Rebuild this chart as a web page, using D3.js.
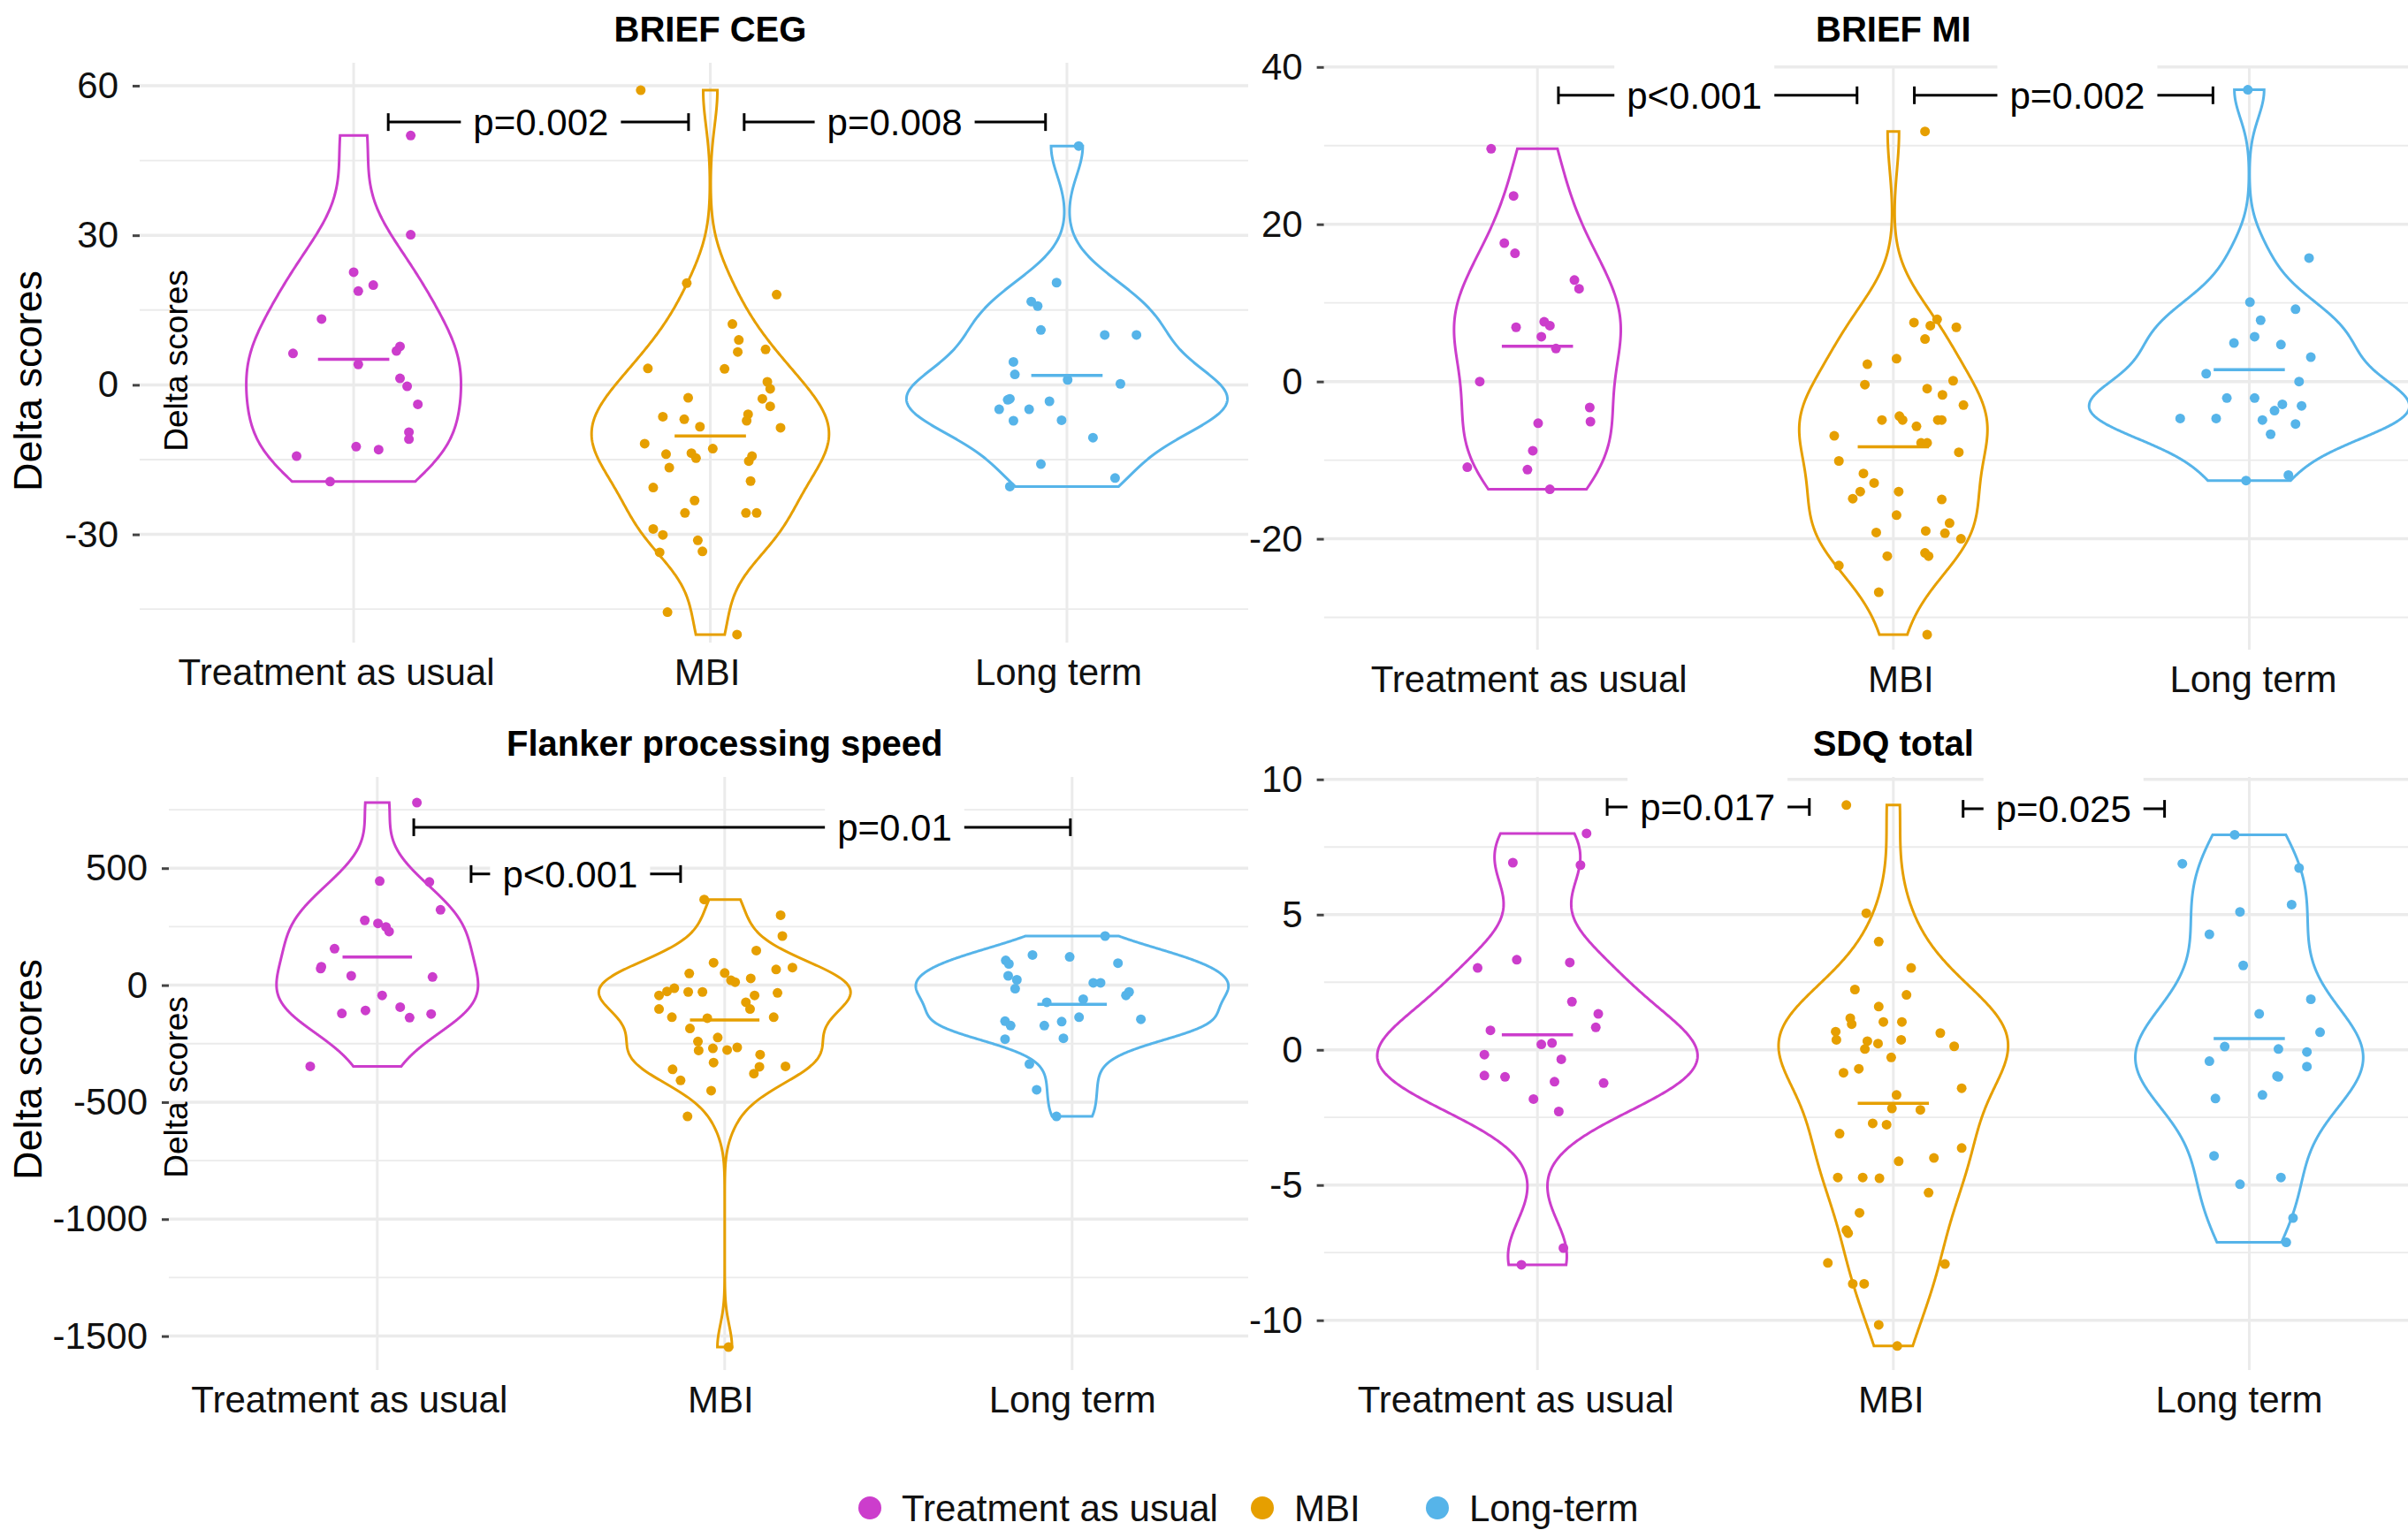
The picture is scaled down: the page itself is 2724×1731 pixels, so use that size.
<!DOCTYPE html>
<html>
<head>
<meta charset="utf-8">
<script src="https://cdn.jsdelivr.net/npm/d3@7"></script>
<style>
  body { margin: 0; background: #fff; }
  svg { display: block; }
  text { font-family: "Liberation Sans", Arial, Helvetica, sans-serif; }
</style>
</head>
<body>
<div id="chart"></div>
<script>
// categories and legend
const groups = ["Treatment as usual", "MBI", "Long term"];
const legendLabels = ["Treatment as usual", "MBI", "Long-term"];
const colors = ["#CC3DCC", "#E69F00", "#56B4E9"];

// points: [horizontal jitter (category units), delta score]
const cegTau = [[0.16,50.0],[0.16,30.1],[0.0,22.6],[0.055,20.0],[0.013,18.8],[-0.09,13.2],[-0.17,6.3],[0.13,7.7],[0.12,6.8],[0.013,4.1],[0.13,1.3],[0.15,-0.3],[0.18,-3.9],[0.155,-9.5],[0.155,-10.9],[0.007,-12.4],[0.07,-13.0],[-0.16,-14.3],[-0.066,-19.4]];
const cegMbi = [[-0.195,59.1],[-0.066,20.4],[0.186,18.1],[0.062,12.2],[0.08,9.0],[0.077,6.6],[0.155,7.1],[-0.175,3.3],[0.04,3.2],[0.16,0.6],[0.168,-0.8],[-0.062,-2.6],[0.146,-2.8],[0.168,-4.3],[-0.133,-6.4],[-0.073,-6.9],[0.106,-5.9],[0.102,-7.2],[-0.029,-8.4],[0.197,-8.6],[-0.184,-11.8],[0.007,-12.8],[-0.124,-13.9],[-0.053,-13.7],[-0.04,-14.7],[0.117,-14.3],[0.108,-15.3],[-0.115,-16.6],[0.113,-19.3],[-0.16,-20.6],[-0.044,-23.2],[-0.071,-25.7],[0.1,-25.7],[0.13,-25.7],[-0.16,-28.9],[-0.133,-30.1],[-0.035,-31.2],[-0.142,-33.6],[-0.022,-33.4],[-0.12,-45.6],[0.075,-50.1]];
const cegLong = [[0.033,47.9],[-0.029,20.5],[-0.1,16.7],[-0.082,15.8],[-0.073,11.0],[0.106,10.0],[0.195,10.0],[-0.15,4.6],[-0.146,2.1],[0.002,1.0],[0.15,0.2],[-0.16,-2.8],[-0.166,-3.0],[-0.049,-3.3],[-0.19,-4.9],[-0.106,-4.9],[-0.15,-7.2],[-0.015,-7.1],[0.073,-10.6],[-0.073,-15.9],[0.135,-18.7],[-0.16,-20.4]];

const miTau = [[-0.13,29.6],[-0.067,23.6],[-0.093,17.6],[-0.063,16.3],[0.104,12.9],[0.117,11.8],[-0.06,6.9],[0.019,7.6],[0.035,7.1],[0.011,5.7],[0.052,4.2],[-0.162,0.0],[0.147,-3.3],[0.149,-5.1],[0.002,-5.3],[-0.013,-8.8],[-0.197,-10.9],[-0.028,-11.2],[0.035,-13.7]];
const miMbi = [[0.089,31.8],[0.058,7.5],[0.123,7.9],[0.104,7.1],[0.177,6.9],[0.089,5.4],[-0.073,2.2],[0.009,2.9],[-0.08,-0.4],[0.168,0.1],[0.095,-0.9],[0.138,-1.7],[0.197,-3.0],[0.017,-4.4],[-0.032,-4.9],[0.026,-4.9],[0.065,-5.7],[0.125,-4.9],[0.136,-4.9],[-0.166,-6.9],[0.078,-7.8],[0.095,-7.8],[0.184,-9.0],[-0.153,-10.1],[-0.084,-11.7],[-0.054,-12.9],[-0.093,-14.0],[-0.114,-14.9],[0.015,-14.0],[0.136,-15.0],[0.009,-17.0],[-0.048,-19.2],[0.091,-19.0],[0.158,-18.0],[0.145,-19.3],[0.19,-20.0],[-0.153,-23.4],[-0.017,-22.2],[0.089,-21.8],[0.099,-22.2],[-0.041,-26.8],[0.095,-32.2]];
const miLong = [[-0.004,37.1],[0.168,15.7],[0.002,10.1],[0.13,9.2],[0.032,7.8],[-0.043,4.9],[0.015,5.7],[0.089,4.7],[0.173,3.1],[-0.121,1.0],[0.14,0.0],[-0.063,-2.1],[0.015,-2.1],[0.093,-2.9],[0.147,-3.1],[0.071,-3.7],[-0.194,-4.7],[-0.093,-4.7],[0.037,-4.9],[0.13,-5.4],[0.06,-6.7],[-0.009,-12.6],[0.11,-11.9]];

const flankerTau = [[0.114,780],[0.007,445],[0.15,441],[0.182,322],[-0.036,277],[0.002,264],[0.025,249],[0.034,229],[-0.123,156],[-0.161,79],[-0.163,71],[-0.075,40],[0.159,35],[0.014,-44],[0.066,-94],[-0.102,-121],[-0.034,-108],[0.093,-139],[0.155,-123],[-0.193,-347]];
const flankerMbi = [[-0.059,366],[0.161,299],[0.166,210],[0.091,148],[-0.032,96],[-0.102,50],[0.195,75],[0.148,67],[0.0,52],[0.018,21],[0.03,13],[0.075,29],[-0.145,-13],[-0.166,-27],[-0.189,-44],[-0.105,-29],[-0.064,-29],[0.152,-33],[0.086,-44],[0.061,-73],[-0.189,-102],[0.073,-102],[-0.152,-137],[-0.05,-141],[0.141,-137],[-0.1,-185],[-0.02,-224],[-0.077,-241],[-0.075,-279],[-0.034,-270],[0.007,-277],[0.036,-266],[0.102,-297],[-0.032,-331],[-0.15,-360],[0.175,-347],[0.1,-349],[0.084,-378],[-0.127,-407],[-0.039,-451],[-0.107,-561],[0.011,-1547]];
const flankerLong = [[0.095,210],[-0.114,129],[-0.007,121],[-0.191,106],[-0.182,91],[0.132,94],[-0.184,40],[-0.159,23],[0.061,10],[0.082,10],[-0.164,-15],[0.164,-29],[0.155,-44],[-0.073,-73],[0.032,-60],[-0.193,-154],[-0.177,-173],[-0.03,-156],[-0.08,-173],[0.02,-137],[0.198,-146],[-0.193,-231],[-0.025,-227],[-0.123,-337],[-0.102,-447],[-0.045,-561]];

const sdqTau = [[0.138,8.0],[-0.069,6.92],[0.121,6.83],[-0.058,3.33],[-0.168,3.03],[0.091,3.23],[0.097,1.78],[0.171,1.33],[0.164,0.83],[-0.132,0.72],[0.011,0.2],[0.041,0.25],[-0.149,-0.18],[0.067,-0.35],[-0.149,-0.95],[-0.091,-1.0],[0.048,-1.18],[0.186,-1.23],[-0.011,-1.82],[0.06,-2.28],[0.073,-7.33],[-0.045,-7.95]];
const sdqMbi = [[-0.132,9.05],[-0.076,5.05],[-0.041,4.0],[0.05,3.03],[-0.108,2.23],[0.037,2.03],[-0.041,1.6],[-0.121,1.17],[-0.117,0.95],[-0.028,1.03],[0.024,1.03],[-0.162,0.67],[-0.16,0.37],[-0.073,0.32],[-0.043,0.23],[0.022,0.37],[0.132,0.62],[0.171,0.13],[-0.08,0.03],[-0.006,-0.28],[-0.097,-0.7],[-0.14,-0.85],[0.192,-1.42],[0.009,-1.67],[-0.004,-2.17],[0.076,-2.22],[-0.058,-2.72],[-0.019,-2.77],[-0.151,-3.1],[0.192,-3.63],[0.114,-4.0],[0.015,-4.12],[-0.156,-4.72],[-0.086,-4.72],[-0.039,-4.75],[0.099,-5.28],[-0.095,-6.03],[-0.132,-6.67],[-0.127,-6.78],[-0.184,-7.88],[0.145,-7.92],[-0.114,-8.65],[-0.082,-8.65],[-0.041,-10.17],[0.011,-10.95]];
const sdqLong = [[-0.041,7.95],[-0.188,6.88],[0.14,6.72],[-0.026,5.1],[0.119,5.37],[-0.112,4.27],[-0.017,3.12],[0.173,1.87],[0.028,1.33],[0.199,0.65],[-0.069,0.12],[0.082,0.03],[0.162,-0.08],[-0.112,-0.42],[0.162,-0.62],[0.078,-0.97],[0.082,-1.0],[0.037,-1.67],[-0.095,-1.8],[-0.099,-3.92],[-0.026,-4.97],[0.089,-4.72],[0.123,-6.22],[0.104,-7.12]];

// tick labels
const cegTicks = [60, 30, 0, -30];
const miTicks = [40, 20, 0, -20];
const flankerTicks = [500, 0, -500, -1000, -1500];
const sdqTicks = [10, 5, 0, -5, -10];

// comparison brackets: [from, to, height, label, label position]
const cegBrackets = [[1.097, 1.939, 52.7, "p=0.002", 1.525], [2.095, 2.94, 52.7, "p=0.008", 2.517]];
const miBrackets = [[1.059, 1.898, 36.4, "p<0.001", 1.441], [2.059, 2.898, 36.4, "p=0.002", 2.517]];
const flankerBrackets = [[1.105, 2.995, 675, "p=0.01", 2.489], [1.27, 1.873, 475, "p<0.001", 1.555]];
const sdqBrackets = [[1.196, 1.764, 8.98, "p=0.017", 1.478], [2.196, 2.762, 8.91, "p=0.025", 2.478]];

const width = 2724, height = 1731;

const svg = d3.select("#chart").append("svg")
  .attr("width", width)
  .attr("height", height);

svg.append("rect").attr("width", width).attr("height", height).attr("fill", "#fff");

// R's bw.nrd0
function bwNrd0(v) {
  const s = d3.sort(v);
  const hi = d3.deviation(s);
  const iqr = d3.quantileSorted(s, 0.75) - d3.quantileSorted(s, 0.25);
  let lo = Math.min(hi, iqr / 1.34);
  if (!lo) lo = hi || Math.abs(s[0]) || 1;
  return 0.9 * lo * Math.pow(s.length, -0.2);
}

// gaussian kernel density over the data range (trimmed violin)
function density(v) {
  const bw = bwNrd0(v);
  const lo = d3.min(v), hi = d3.max(v);
  return d3.range(512).map(i => {
    const yv = lo + (hi - lo) * i / 511;
    const d = d3.mean(v, t => Math.exp(-0.5 * ((yv - t) / bw) ** 2)) / (bw * Math.sqrt(2 * Math.PI));
    return {y: yv, d: d};
  });
}

function drawPanel(p) {
  const x = d3.scaleLinear().domain([0.4, 3.6]).range([p.left, p.right]);
  const y = d3.scaleLinear().domain(p.yDomain).range([p.bottom, p.top]);
  const g = svg.append("g");

  const clipId = "clip" + p.id;
  svg.append("clipPath").attr("id", clipId)
    .append("rect")
    .attr("x", p.left).attr("y", p.top - 60)
    .attr("width", p.clipRight - p.left).attr("height", p.bottom - p.top + 60);

  const plot = g.append("g").attr("clip-path", `url(#${clipId})`);

  // grid
  const step = p.ticks[0] - p.ticks[1];
  const minors = p.ticks.map(t => t - step / 2).concat([p.ticks[0] + step / 2])
    .filter(t => t > p.yDomain[0] && t < p.yDomain[1]);
  plot.selectAll(".minor").data(minors).join("line")
    .attr("x1", p.left).attr("x2", p.clipRight)
    .attr("y1", d => y(d)).attr("y2", d => y(d))
    .attr("stroke", "#ebebeb").attr("stroke-width", 1.8);
  plot.selectAll(".major").data(p.ticks).join("line")
    .attr("x1", p.left).attr("x2", p.clipRight)
    .attr("y1", d => y(d)).attr("y2", d => y(d))
    .attr("stroke", "#ebebeb").attr("stroke-width", 3.5);
  plot.selectAll(".vgrid").data([1, 2, 3]).join("line")
    .attr("x1", d => x(d)).attr("x2", d => x(d))
    .attr("y1", p.top).attr("y2", p.bottom)
    .attr("stroke", "#ebebeb").attr("stroke-width", 3);

  // violins, scaled by area like ggplot
  const dens = p.series.map(s => density(s.map(d => d[1])));
  const maxD = d3.max(dens, ds => d3.max(ds, d => d.d));

  dens.forEach((ds, gi) => {
    const c = gi + 1;
    const violin = d3.area()
      .y(d => y(d.y))
      .x0(d => x(c - 0.45 * d.d / maxD))
      .x1(d => x(c + 0.45 * d.d / maxD));
    plot.append("path")
      .attr("d", violin(ds))
      .attr("fill", "none")
      .attr("stroke", colors[gi])
      .attr("stroke-width", 3);
  });

  // jittered points
  p.series.forEach((s, gi) => {
    plot.selectAll(null).data(s).join("circle")
      .attr("cx", d => x(gi + 1 + d[0]))
      .attr("cy", d => y(d[1]))
      .attr("r", 5.5)
      .attr("fill", colors[gi]);
  });

  // mean lines
  p.series.forEach((s, gi) => {
    const m = d3.mean(s, d => d[1]);
    plot.append("line")
      .attr("x1", x(gi + 1 - 0.1)).attr("x2", x(gi + 1 + 0.1))
      .attr("y1", y(m)).attr("y2", y(m))
      .attr("stroke", colors[gi]).attr("stroke-width", 3.5);
  });

  // brackets with p-values
  p.brackets.forEach(b => {
    const yy = y(b[2]);
    const bg = g.append("g");
    bg.append("line").attr("x1", x(b[0])).attr("x2", x(b[1]))
      .attr("y1", yy).attr("y2", yy).attr("stroke", "#000").attr("stroke-width", 3);
    [b[0], b[1]].forEach(e => {
      bg.append("line").attr("x1", x(e)).attr("x2", x(e))
        .attr("y1", yy - 10).attr("y2", yy + 10).attr("stroke", "#000").attr("stroke-width", 3);
    });
    const box = bg.append("rect").attr("fill", "#fff");
    const t = bg.append("text")
      .attr("x", x(b[4])).attr("y", yy).attr("dy", "0.35em")
      .attr("text-anchor", "middle")
      .attr("font-size", 42)
      .attr("fill", "#000")
      .text(b[3]);
    const w = t.node().getComputedTextLength();
    box.attr("x", x(b[4]) - w / 2 - 14).attr("width", w + 28)
      .attr("y", yy - 37).attr("height", 74);
  });

  // y axis
  const yAxis = g.append("g")
    .attr("transform", `translate(${p.left},0)`)
    .call(d3.axisLeft(y).tickValues(p.ticks).tickFormat(d => String(d)).tickSize(8).tickPadding(16));
  yAxis.select(".domain").remove();
  yAxis.selectAll(".tick line").attr("stroke", "#444").attr("stroke-width", 3);
  yAxis.selectAll(".tick text").attr("font-size", 42).attr("fill", "#111")
    .attr("font-family", "Liberation Sans, Arial, sans-serif");

  // x axis
  const xAxis = g.append("g")
    .attr("transform", `translate(0,${p.bottom})`)
    .call(d3.axisBottom(x).tickValues([1, 2, 3]).tickFormat(i => groups[i - 1]).tickSize(0).tickPadding(18));
  xAxis.select(".domain").remove();
  xAxis.selectAll(".tick text").attr("font-size", 42).attr("fill", "#111")
    .attr("font-family", "Liberation Sans, Arial, sans-serif")
    .attr("dx", (d, i) => p.labelShift[i]);

  // title
  g.append("text")
    .attr("x", x(2)).attr("y", p.titleY).attr("dy", "0.35em")
    .attr("text-anchor", "middle")
    .attr("font-size", 40).attr("font-weight", "bold")
    .text(p.title);

  // y titles (outer and inner, as in the original)
  if (p.yTitle) {
    g.append("text")
      .attr("transform", `translate(31,${p.yTitle[0]}) rotate(-90)`)
      .attr("dy", "0.35em").attr("text-anchor", "middle")
      .attr("font-size", 45).text("Delta scores");
    g.append("text")
      .attr("transform", `translate(199,${p.yTitle[1]}) rotate(-90)`)
      .attr("dy", "0.35em").attr("text-anchor", "middle")
      .attr("font-size", 37).text("Delta scores");
  }
}

const panels = [
  {id: 1, title: "BRIEF CEG", series: [cegTau, cegMbi, cegLong], ticks: cegTicks, brackets: cegBrackets,
   left: 158, right: 1449, clipRight: 1412, top: 71, bottom: 727, yDomain: [-51.7, 64.6], titleY: 33,
   yTitle: [431, 408], labelShift: [-20, -4, -10]},
  {id: 2, title: "BRIEF MI", series: [miTau, miMbi, miLong], ticks: miTicks, brackets: miBrackets,
   left: 1497.6, right: 2786, clipRight: 2724, top: 74, bottom: 735, yDomain: [-34.1, 40.2], titleY: 33,
   labelShift: [-10, 8, 4]},
  {id: 3, title: "Flanker processing speed", series: [flankerTau, flankerMbi, flankerLong], ticks: flankerTicks, brackets: flankerBrackets,
   left: 191, right: 1448.6, clipRight: 1412, top: 879, bottom: 1550, yDomain: [-1645, 890], titleY: 841,
   yTitle: [1210, 1230], labelShift: [-32, -5, 0]},
  {id: 4, title: "SDQ total", series: [sdqTau, sdqMbi, sdqLong], ticks: sdqTicks, brackets: sdqBrackets,
   left: 1497.6, right: 2786, clipRight: 2724, top: 879, bottom: 1550, yDomain: [-11.84, 10.09], titleY: 841,
   labelShift: [-25, -3, -12]}
];

panels.forEach(drawPanel);

// legend
const legendX = [984, 1428, 1626];
const legend = svg.append("g");
legendLabels.forEach((lab, i) => {
  legend.append("circle").attr("cx", legendX[i]).attr("cy", 1706).attr("r", 13).attr("fill", colors[i]);
  legend.append("text").attr("x", legendX[i] + 36).attr("y", 1706).attr("dy", "0.35em")
    .attr("font-size", 42).attr("fill", "#111").text(lab);
});
</script>
</body>
</html>
